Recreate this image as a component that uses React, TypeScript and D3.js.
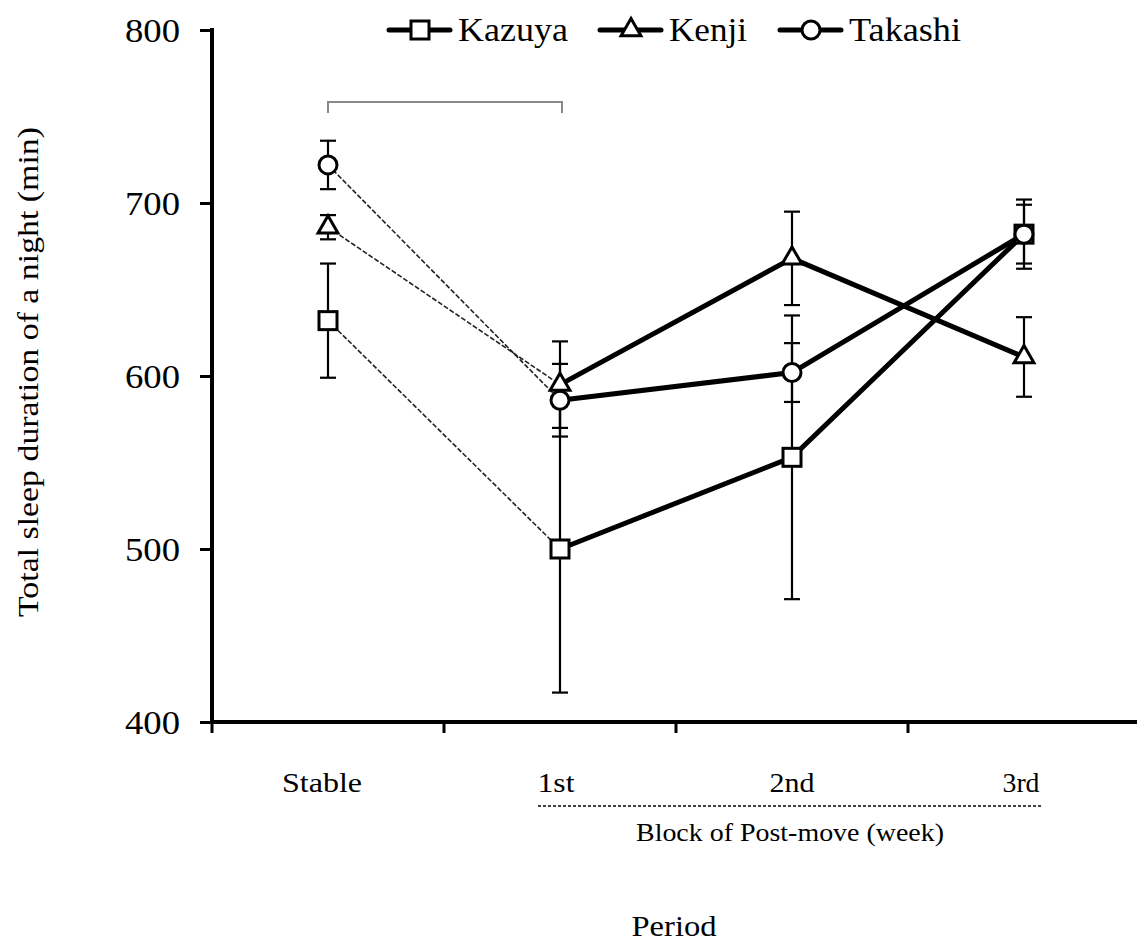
import React, { useEffect, useRef } from 'react';
import * as d3 from 'd3';

const periods = ['Stable', '1st', '2nd', '3rd'];
const yTicks = [400, 500, 600, 700, 800];

const kazuyaMean = [632, 500, 553, 682];
const kazuyaErr = [33, 83, 82, 20];
const kenjiMean = [686, 595, 668, 611];
const kenjiErr = [7, 25, 27, 23];
const takashiMean = [722, 586, 602, 682];
const takashiErr = [14, 21, 17, 17];

const seriesNames = ['Kazuya', 'Kenji', 'Takashi'];
const seriesShapes = ['square', 'triangle', 'circle'];

export default function App() {
  const svgRef = useRef<SVGSVGElement>(null);

  useEffect(() => {
    const W = 1137;
    const H = 945;
    const font = '"Liberation Serif", "Times New Roman", serif';

    d3.select(svgRef.current).selectAll('*').remove();
    const svg = d3.select(svgRef.current).attr('width', W).attr('height', H);

    const xScale = d3.scaleBand<string>().domain(periods).range([212, 1140]);
    const yScale = d3.scaleLinear().domain([400, 800]).range([722, 30]);
    const cx = (p: string) => (xScale(p) as number) + xScale.bandwidth() / 2;

    const series = [
      { name: seriesNames[0], shape: seriesShapes[0], mean: kazuyaMean, err: kazuyaErr },
      { name: seriesNames[1], shape: seriesShapes[1], mean: kenjiMean, err: kenjiErr },
      { name: seriesNames[2], shape: seriesShapes[2], mean: takashiMean, err: takashiErr },
    ];

    const drawMarker = (g: any, shape: string, x: number, y: number) => {
      if (shape === 'square') {
        g.append('rect')
          .attr('x', x - 9).attr('y', y - 9).attr('width', 18).attr('height', 18)
          .attr('fill', '#fff').attr('stroke', '#000').attr('stroke-width', 3);
      } else if (shape === 'circle') {
        g.append('circle')
          .attr('cx', x).attr('cy', y).attr('r', 9)
          .attr('fill', '#fff').attr('stroke', '#000').attr('stroke-width', 3);
      } else {
        g.append('path')
          .attr('d', d3.symbol(d3.symbolTriangle, 170)())
          .attr('transform', `translate(${x},${y})`)
          .attr('fill', '#fff').attr('stroke', '#000').attr('stroke-width', 3);
      }
    };

    // Axes
    const axisY = d3.axisLeft(yScale).tickValues(yTicks).tickSize(12).tickPadding(20);
    const gy = svg.append('g').attr('transform', 'translate(212,0)').call(axisY);
    gy.select('.domain').attr('stroke', '#000').attr('stroke-width', 4).attr('d', 'M0,28V724');
    gy.selectAll('.tick line').attr('stroke', '#000').attr('stroke-width', 3);
    gy.selectAll('.tick text')
      .attr('font-family', font).attr('font-size', 33).attr('fill', '#000')
      .attr('dy', '0.34em')
      .attr('textLength', 55).attr('lengthAdjust', 'spacingAndGlyphs');

    const labelWidths: Record<string, number> = { Stable: 80, '1st': 37, '2nd': 45, '3rd': 37 };
    const labelShift: Record<string, number> = { Stable: -6, '1st': -4, '2nd': 0, '3rd': -3 };
    const gx = svg.append('g').attr('transform', 'translate(0,722)');
    gx.append('line').attr('x1', 210).attr('x2', 1140).attr('y1', 0).attr('y2', 0)
      .attr('stroke', '#000').attr('stroke-width', 4);
    periods.forEach(p => {
      const x0 = xScale(p) as number;
      gx.append('line').attr('x1', x0).attr('x2', x0).attr('y1', 0).attr('y2', 11)
        .attr('stroke', '#000').attr('stroke-width', 3);
      gx.append('text').attr('x', cx(p) + labelShift[p]).attr('y', 70)
        .attr('text-anchor', 'middle').attr('font-family', font).attr('font-size', 28)
        .attr('textLength', labelWidths[p]).attr('lengthAdjust', 'spacingAndGlyphs')
        .text(p);
    });

    // Post-move block annotation
    svg.append('line')
      .attr('x1', 538).attr('x2', cx('3rd') + 17).attr('y1', 806).attr('y2', 806)
      .attr('stroke', '#000').attr('stroke-width', 1.5).attr('stroke-dasharray', '3,2');
    svg.append('text').attr('x', 790).attr('y', 841).attr('text-anchor', 'middle')
      .attr('font-family', font).attr('font-size', 25)
      .attr('textLength', 308).attr('lengthAdjust', 'spacingAndGlyphs')
      .text('Block of Post-move (week)');

    svg.append('text').attr('x', 674).attr('y', 936).attr('text-anchor', 'middle')
      .attr('font-family', font).attr('font-size', 30)
      .attr('textLength', 85).attr('lengthAdjust', 'spacingAndGlyphs')
      .text('Period');

    svg.append('text')
      .attr('transform', 'translate(38,372) rotate(-90)')
      .attr('text-anchor', 'middle').attr('font-family', font).attr('font-size', 29)
      .attr('textLength', 490).attr('lengthAdjust', 'spacingAndGlyphs')
      .text('Total sleep duration of a night (min)');

    // Bracket between Stable and 1st
    svg.append('path')
      .attr('d', `M${cx('Stable')},113V102H${cx('1st') + 2}V113`)
      .attr('fill', 'none').attr('stroke', '#888').attr('stroke-width', 2);

    const plot = svg.append('g');

    // Dashed transition lines Stable -> 1st
    series.forEach(s => {
      plot.append('line')
        .attr('x1', cx(periods[0])).attr('y1', yScale(s.mean[0]))
        .attr('x2', cx(periods[1])).attr('y2', yScale(s.mean[1]))
        .attr('stroke', '#222').attr('stroke-width', 1.6).attr('stroke-dasharray', '5,2');
    });

    // Solid lines over post-move blocks
    const line = d3.line<number>()
      .x((_, i) => cx(periods[i + 1]))
      .y(d => yScale(d));
    series.forEach(s => {
      plot.append('path').datum(s.mean.slice(1))
        .attr('d', line).attr('fill', 'none')
        .attr('stroke', '#000').attr('stroke-width', 5).attr('stroke-linejoin', 'round');
    });

    // Error bars
    series.forEach(s => {
      s.mean.forEach((m, i) => {
        const x = cx(periods[i]);
        const yTop = yScale(m + s.err[i]);
        const yBot = yScale(m - s.err[i]);
        plot.append('line').attr('x1', x).attr('x2', x).attr('y1', yTop).attr('y2', yBot)
          .attr('stroke', '#000').attr('stroke-width', 2.2);
        [yTop, yBot].forEach(yy => {
          plot.append('line').attr('x1', x - 8).attr('x2', x + 8).attr('y1', yy).attr('y2', yy)
            .attr('stroke', '#000').attr('stroke-width', 2.2);
        });
      });
    });

    // Markers
    series.forEach(s => {
      s.mean.forEach((m, i) => drawMarker(plot, s.shape, cx(periods[i]), yScale(m)));
    });

    // Legend
    const legendX = [387, 598, 778];
    const legendTextW = [110, 78, 112];
    series.forEach((s, i) => {
      const lg = svg.append('g').attr('transform', `translate(${legendX[i]},30)`);
      lg.append('line').attr('x1', 2).attr('x2', 63).attr('y1', 0).attr('y2', 0)
        .attr('stroke', '#000').attr('stroke-width', 5).attr('stroke-linecap', 'round');
      drawMarker(lg, s.shape, 33, 0);
      lg.append('text').attr('x', 71).attr('y', 11)
        .attr('font-family', font).attr('font-size', 33)
        .attr('textLength', legendTextW[i]).attr('lengthAdjust', 'spacingAndGlyphs')
        .text(s.name);
    });
  }, []);

  return (
    <svg ref={svgRef} style={{ position: 'absolute', left: 0, top: 0, background: '#fff' }}></svg>
  );
}
